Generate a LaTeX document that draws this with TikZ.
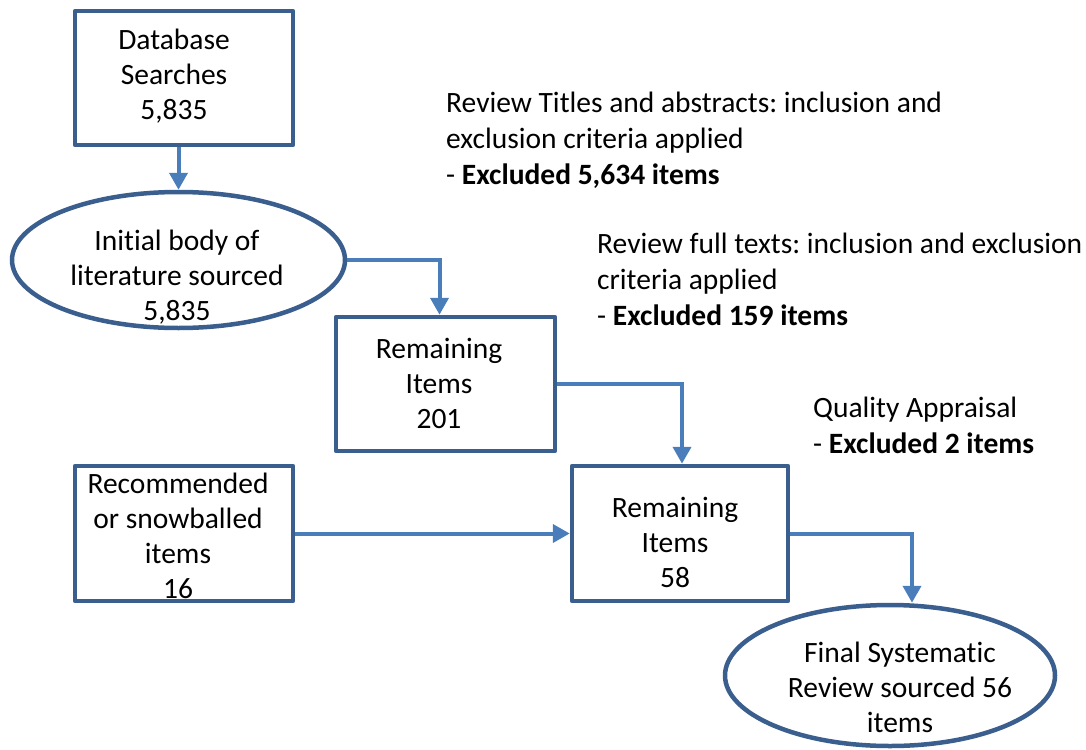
\documentclass[tikz,border=0pt]{standalone}
\usepackage{fontspec}
\setmainfont{Carlito}[Ligatures={TeX,NoCommon}]
\usetikzlibrary{arrows.meta,shapes.geometric}
\definecolor{boxline}{RGB}{58,95,142}
\definecolor{flowline}{RGB}{74,126,187}
\tikzset{
  stagebox/.style={rectangle,draw=boxline,line width=4.5pt,line join=round,inner sep=0pt},
  stageoval/.style={ellipse,draw=boxline,line width=4.5pt,inner sep=0pt},
  label text/.style={font=\fontsize{29.5}{35}\selectfont,align=center,inner sep=0pt},
  note text/.style={font=\fontsize{29.5}{36}\selectfont,align=left,inner sep=0pt,anchor=north west},
  flow/.style={draw=flowline,line width=4pt,-{Triangle[length=17pt,width=18pt]}}
}
\begin{document}
\frenchspacing
\begin{tikzpicture}[x=1pt,y=-1pt]
\useasboundingbox (0,0) rectangle (1086,749);

% shapes of the flow
\node[stagebox,minimum width=218pt,minimum height=134pt] (b1) at (184,78) {};
\node[stageoval,minimum width=333pt,minimum height=136pt] (e1) at (178.5,260) {};
\node[stagebox,minimum width=219pt,minimum height=134pt] (b2) at (445.5,384) {};
\node[stagebox,minimum width=216pt,minimum height=135pt] (b3) at (680,533.5) {};
\node[stagebox,minimum width=218pt,minimum height=135pt] (b4) at (184,533.5) {};
\node[stageoval,minimum width=330pt,minimum height=141pt] (e2) at (890,675.5) {};

% texts inside the shapes
\node[label text] (t1) at (174,76) {Database\\Searches\\5,835};
\node[label text] (t2) at (177,277) {Initial body of\\literature sourced\\5,835};
\node[label text] (t3) at (439,383) {Remaining\\Items\\201};
\node[label text] (t4) at (675,542) {Remaining\\Items\\58};
\node[label text] (t5) at (178,536) {Recommended\\or snowballed\\items\\16};
\node[label text] (t6) at (900,687) {Final Systematic\\Review sourced 56\\items};

% notes on the exclusions
\node[note text] (n1) at (446,92) {Review Titles and abstracts: inclusion and\\exclusion criteria applied\\- \textbf{Excluded 5,634 items}};
\node[note text] (n2) at (597,233) {Review full texts: inclusion and exclusion\\criteria applied\\- \textbf{Excluded 159 items}};
\node[note text] (n3) at (813,397) {Quality Appraisal\\- \textbf{Excluded 2 items}};

% connectors
\draw[flow] (b1.south -| e1.north) -- (e1.north);
\draw[flow] (e1.east) -| ([xshift=-6pt]b2.north);
\draw[flow] (b2.east) -| ([xshift=2pt]b3.north);
\draw[flow] (b3.east) -| ([xshift=22pt]e2.north);
\draw[flow] (b4.east) -- (b3.west);
\end{tikzpicture}
\end{document}
